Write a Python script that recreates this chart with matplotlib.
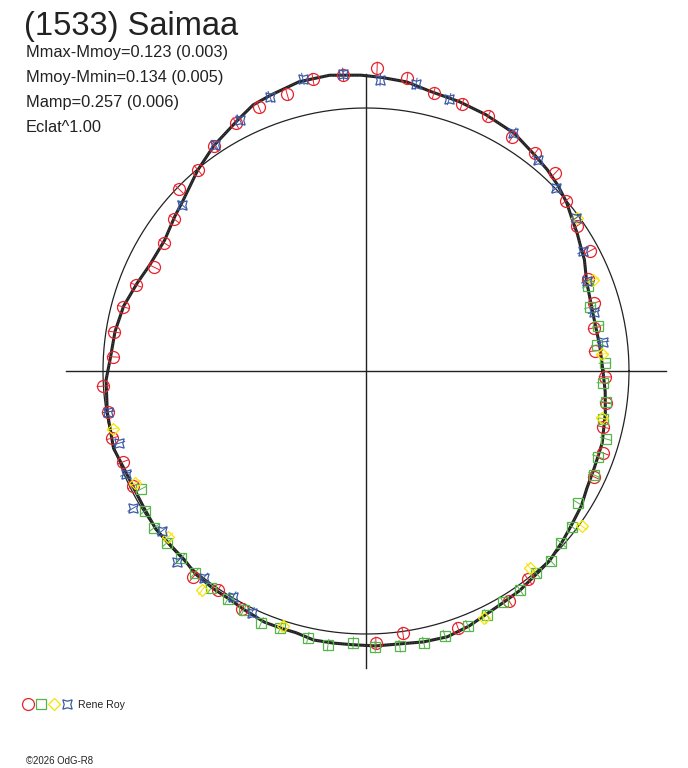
import numpy as np
import matplotlib
matplotlib.use("Agg")
import matplotlib.pyplot as plt
from matplotlib.lines import Line2D
from matplotlib.legend_handler import HandlerTuple

plt.rcParams['font.family'] = ['Liberation Sans', 'DejaVu Sans']

# Courbe de lumiere : angle de phase (deg) et flux relatif (cercle = 1)
curve_deg = [0, 6, 14, 22, 27, 30, 33, 37, 40, 44, 48, 52, 58, 65, 71, 77, 82, 87, 91, 97,
             103, 109, 113, 117, 124, 130, 137, 141, 147, 154, 159, 165, 171, 177, 182, 189,
             197, 202, 207, 212, 217, 221, 226, 230, 235, 239, 243, 248, 252, 255, 259, 263,
             267, 272, 282, 287, 292, 297, 301, 305, 310, 314, 319, 323, 328, 332, 337, 343,
             350, 355]
curve_flux = [0.901, 0.894, 0.890, 0.905, 0.932, 0.943, 0.958, 0.977, 0.996, 1.015, 1.030,
              1.042, 1.065, 1.076, 1.084, 1.091, 1.110, 1.118, 1.125, 1.133, 1.129, 1.110,
              1.099, 1.072, 1.034, 0.996, 0.951, 0.935, 0.913, 0.916, 0.932, 0.954, 0.966,
              0.973, 0.989, 0.996, 1.004, 0.992, 0.989, 0.992, 1.000, 0.996, 0.996, 1.008,
              1.011, 1.011, 1.019, 1.030, 1.030, 1.030, 1.042, 1.042, 1.042, 1.046, 1.053,
              1.057, 1.046, 1.030, 1.023, 1.019, 1.008, 1.004, 0.989, 0.977, 0.966, 0.951,
              0.943, 0.939, 0.924, 0.913]

# Mesures par session
red_deg = [87.9, 82.0, 76.3, 70.2, 64.4, 58.0, 52.2, 46.3, 40.4, 34.5, 28.2, 22.5, 16.6, 10.7,
           5.0, 358.6, 352.4, 346.7, 340.9, 335.1, 307.9, 301.9, 289.7, 278.0, 272.1, 242.5,
           235.9, 230.0, 206.3, 200.5, 194.8, 189.0, 183.3, 176.8, 171.2, 165.2, 159.5, 153.9,
           147.6, 141.6, 135.8, 129.9, 124.0, 117.7, 112.1, 105.9, 100.3, 94.4]
red_flux = [1.153, 1.125, 1.088, 1.079, 1.075, 1.049, 1.049, 1.041, 0.998, 0.973, 0.966, 0.914,
            0.905, 0.882, 0.874, 0.909, 0.921, 0.926, 0.954, 0.956, 1.002, 1.030, 1.038, 1.006,
            1.035, 1.020, 1.005, 1.023, 0.988, 0.987, 0.999, 0.993, 1.002, 0.963, 0.970, 0.955,
            0.934, 0.898, 0.909, 0.931, 0.992, 0.996, 1.032, 1.065, 1.083, 1.095, 1.128, 1.129]

green_deg = [21.0, 15.9, 11.0, 6.4, 1.9, 357.1, 352.6, 348.6, 344.2, 339.7, 335.5, 328.1, 322.9,
             318.6, 314.2, 310.1, 305.1, 300.7, 296.4, 291.8, 286.6, 282.0, 277.0, 271.9, 267.3,
             262.1, 257.7, 251.5, 247.4, 242.9, 238.8, 234.5, 229.7, 225.3, 220.8, 216.5, 212.4,
             207.7]
green_flux = [0.904, 0.886, 0.899, 0.884, 0.909, 0.902, 0.920, 0.919, 0.948, 0.941, 0.953, 0.950,
              0.983, 0.989, 1.008, 1.004, 1.018, 1.021, 1.036, 1.044, 1.051, 1.057, 1.054, 1.050,
              1.035, 1.052, 1.039, 1.030, 1.038, 1.020, 1.013, 1.014, 1.006, 1.000, 1.000, 1.003,
              0.995, 0.966]

yellow_deg = [21.8, 36.0, 4.1, 348.7, 324.3, 309.8, 295.5, 252.0, 233.2, 220.0, 205.9, 192.9]
yellow_flux = [0.930, 0.991, 0.900, 0.915, 1.011, 0.975, 1.041, 1.020, 1.040, 0.982, 0.976, 0.987]

blue_deg = [87.2, 80.1, 73.0, 58.3, 50.8, 43.9, 36.1, 29.0, 22.2, 14.5, 7.0, 94.4, 102.2, 109.3,
            116.7, 123.7, 137.9, 189.0, 196.3, 203.2, 210.5, 218.1, 225.3, 231.9, 239.5, 244.7]
blue_flux = [1.108, 1.108, 1.081, 1.064, 1.035, 1.003, 0.988, 0.943, 0.907, 0.895, 0.908, 1.133,
             1.136, 1.104, 1.068, 1.033, 0.942, 0.993, 0.978, 0.993, 1.028, 0.986, 1.022, 0.999,
             0.997, 1.017]

title = "(1533) Saimaa"
info_lines = ["Mmax-Mmoy=0.123 (0.003)", "Mmoy-Mmin=0.134 (0.005)",
              "Mamp=0.257 (0.006)", "Eclat^1.00"]
observer = "Rene Roy"
credit = "\u00a92026 OdG-R8"

W, H = 688, 768
cx, cy, unit = 366, 371, 263.0

fig = plt.figure(figsize=(W / 100, H / 100), dpi=100)
ax = fig.add_axes([0, 0, 1, 1])
ax.set_xlim(-cx / unit, (W - cx) / unit)
ax.set_ylim(-(H - cy) / unit, cy / unit)
ax.set_aspect('equal')
ax.axis('off')


def to_xy(deg, flux):
    t = np.radians(np.asarray(deg))
    f = np.asarray(flux)
    return f * np.cos(t), f * np.sin(t)


# axes du repere
ax.plot([-1.14, 1.14], [0, 0], color='#222222', lw=1.0)
ax.plot([0, 0], [-1.13, 1.13], color='#222222', lw=1.0)

# cercle de reference
t = np.linspace(0, 2 * np.pi, 400)
ax.plot(np.cos(t), np.sin(t), color='#222222', lw=0.9)

# courbe moyenne
xc, yc = to_xy(curve_deg + curve_deg[:1], curve_flux + curve_flux[:1])
ax.plot(xc, yc, color='#222222', lw=2.2, solid_joinstyle='miter')
ax.plot(xc, yc, color='#555555', lw=0.6, ls=(0, (1, 2)))

err = 0.022
series = [
    (red_deg, red_flux, dict(marker='o', ms=8.6, mec='#e8222c'), '#e8222c'),
    (green_deg, green_flux, dict(marker='s', ms=6.6, mec='#55b548'), '#55b548'),
    (yellow_deg, yellow_flux, dict(marker='D', ms=6.4, mec='#f5e400'), '#f5e400'),
    (blue_deg, blue_flux, dict(marker=(4, 1, 45), ms=9.5, mec='#3b5aa8'), '#3b5aa8'),
]
for deg, flux, style, col in series:
    x, y = to_xy(deg, flux)
    th = np.radians(deg)
    for xi, yi, ti in zip(x, y, th):
        ax.plot([xi - err * np.cos(ti), xi + err * np.cos(ti)],
                [yi - err * np.sin(ti), yi + err * np.sin(ti)], color=col, lw=0.7)
    ax.plot(x, y, ls='none', mfc='none', mew=0.9, **style)

# textes
fig.text(24 / W, 1 - 11 / H, title, fontsize=23.5, color='#222222', va='top', ha='left')
for i, s in enumerate(info_lines):
    fig.text(26 / W, 1 - (57 + 25 * i) / H, s, fontsize=11.8, color='#222222',
             va='baseline', ha='left')

handles = [Line2D([], [], ls='none', mfc='none', mew=0.9, **st) for _, _, st, _ in series]
leg = fig.legend(handles=[tuple(handles)], labels=[observer],
                 handler_map={tuple: HandlerTuple(ndivide=None, pad=0.3)},
                 loc='center left', bbox_to_anchor=(14 / W, 1 - 705 / H),
                 frameon=False, fontsize=7.6, handlelength=4.6, handletextpad=0.6)
for txt in leg.get_texts():
    txt.set_color('#222222')

fig.text(26 / W, 1 - 764 / H, credit, fontsize=6.9, color='#222222', va='baseline', ha='left')

fig.savefig('out.png', dpi=100)
